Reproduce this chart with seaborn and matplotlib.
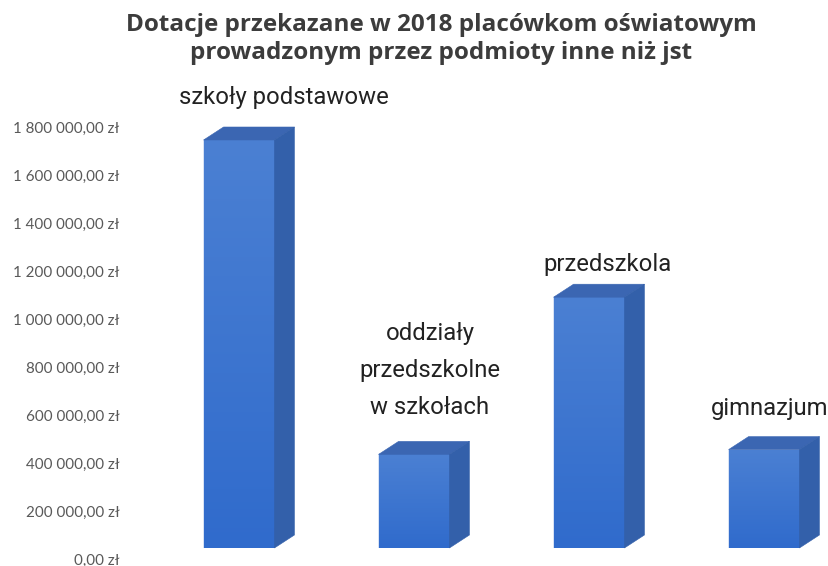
import matplotlib
matplotlib.use("Agg")
import matplotlib.pyplot as plt
import numpy as np
import pandas as pd
import seaborn as sns
from matplotlib.patches import Polygon
from matplotlib.colors import LinearSegmentedColormap
from matplotlib.transforms import ScaledTranslation

# ---- data ----
categories = ["szkoły podstawowe", "oddziały\nprzedszkolne\nw szkołach", "przedszkola", "gimnazjum"]
values = [1700000, 390000, 1045000, 410000]
tick_values = [0, 200000, 400000, 600000, 800000, 1000000, 1200000, 1400000, 1600000, 1800000]
tick_labels = ["0,00 zł", "200 000,00 zł", "400 000,00 zł", "600 000,00 zł", "800 000,00 zł",
               "1 000 000,00 zł", "1 200 000,00 zł", "1 400 000,00 zł", "1 600 000,00 zł",
               "1 800 000,00 zł"]
title = "Dotacje przekazane w 2018 placówkom oświatowym\nprowadzonym przez podmioty inne niż jst"

# label placement (pixels relative to the front-top centre of each bar)
label_offsets = [(45, 36), (16, 40), (19, 26), (6, 35)]

FRONT = "#3f76d0"
FRONT_TOP = "#4b80d3"
FRONT_BOTTOM = "#306bcc"
SIDE = "#3360aa"
TOP = "#3b66b2"

sns.set_theme(style="white")
plt.rcParams["font.family"] = ["Lato", "DejaVu Sans"]

W, H = 829, 566
fig = plt.figure(figsize=(W / 100, H / 100), dpi=100)
ax = fig.add_axes([130 / W, 18 / H, 699 / W, 480 / H])

df = pd.DataFrame({"cat": categories, "val": values})
sns.barplot(data=df, x="cat", y="val", color=FRONT, saturation=1, width=0.405, ax=ax, zorder=3)

xlim = ((130 - 239) / 175, (829 - 239) / 175)
ylim = (0, 2000000)
ax.set_xlim(*xlim)
ax.set_ylim(*ylim)
for s in ax.spines.values():
    s.set_visible(False)
ax.set_xlabel("")
ax.set_ylabel("")
ax.set_xticks([])
ax.set_yticks(tick_values)
ax.set_yticklabels(tick_labels, fontsize=10.9, color="#595959")
ax.tick_params(axis="y", length=0, pad=7.5)
shift = ScaledTranslation(0, -11 / 100, fig.dpi_scale_trans)
for lab in ax.get_yticklabels():
    lab.set_transform(lab.get_transform() + shift)
ax.grid(False)

# depth of the 3D look, in pixels converted to data units
p0 = ax.transData.transform((0, 0))
px_x = ax.transData.transform((1, 0))[0] - p0[0]
px_y = ax.transData.transform((0, 1))[1] - p0[1]
ddx = 20 / px_x
ddy = 13 / px_y

grad_cmap = LinearSegmentedColormap.from_list("front", [FRONT_BOTTOM, FRONT_TOP])
grad = np.linspace(0, 1, 256).reshape(-1, 1)

for i, patch in enumerate(list(ax.patches)):
    patch.set_edgecolor(FRONT)
    patch.set_linewidth(0.3)
    x0 = patch.get_x()
    x1 = x0 + patch.get_width()
    h = patch.get_height()
    im = ax.imshow(grad, extent=[x0, x1, 0, h], origin="lower", cmap=grad_cmap,
                   aspect="auto", zorder=3.1, interpolation="bilinear")
    im.set_clip_path(patch)
    top = Polygon([(x0, h), (x1, h), (x1 + ddx, h + ddy), (x0 + ddx, h + ddy)],
                  closed=True, facecolor=TOP, edgecolor=TOP, linewidth=0.4, zorder=3.2, clip_on=False)
    side = Polygon([(x1, 0), (x1, h), (x1 + ddx, h + ddy), (x1 + ddx, ddy)],
                   closed=True, facecolor=SIDE, edgecolor=SIDE, linewidth=0.4, zorder=3.2, clip_on=False)
    ax.add_patch(top)
    ax.add_patch(side)
    dx, dy = label_offsets[i]
    ax.annotate(categories[i], xy=((x0 + x1) / 2, h), xytext=(dx, dy), textcoords="offset pixels",
                ha="center", va="baseline", fontsize=17.2, color="#222222",
                family=["Roboto", "DejaVu Sans"], linespacing=1.8, annotation_clip=False)

ax.set_xlim(*xlim)
ax.set_ylim(*ylim)

fig.text(441 / W, 1 - 13 / H, title, ha="center", va="top", fontsize=17.5, fontweight="bold",
         color="#3c3c3c", family=["Open Sans", "DejaVu Sans"], linespacing=1.2)

fig.savefig("out.png", dpi=100, facecolor="white")
